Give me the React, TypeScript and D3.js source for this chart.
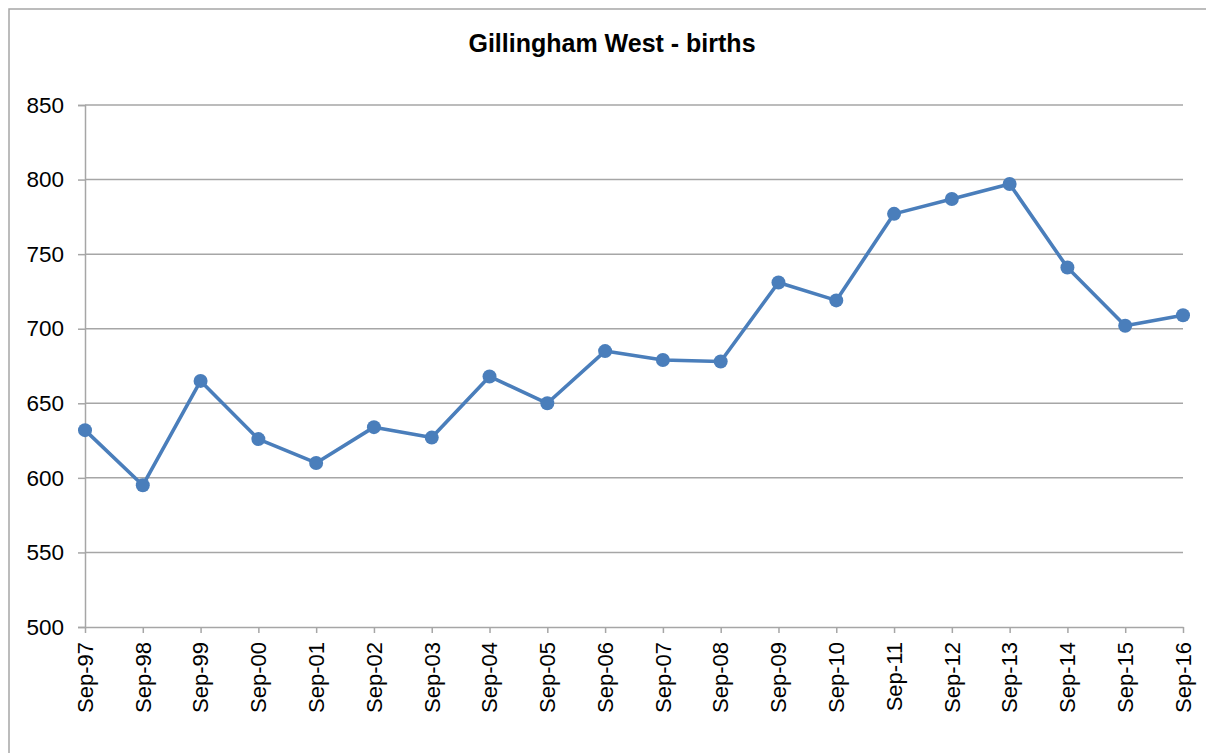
import { useRef, useEffect } from "react";
import * as d3 from "d3";

const categories = [
  "Sep-97", "Sep-98", "Sep-99", "Sep-00", "Sep-01", "Sep-02", "Sep-03",
  "Sep-04", "Sep-05", "Sep-06", "Sep-07", "Sep-08", "Sep-09", "Sep-10",
  "Sep-11", "Sep-12", "Sep-13", "Sep-14", "Sep-15", "Sep-16",
];
const births = [
  632, 595, 665, 626, 610, 634, 627, 668, 650, 685, 679, 678, 731, 719,
  777, 787, 797, 741, 702, 709,
];
const yTicks = [500, 550, 600, 650, 700, 750, 800, 850];
const title = "Gillingham West - births";

const W = 1206;
const H = 753;
const margin = { top: 105, right: 23, bottom: 126, left: 85 };

const App = () => {
  const svgRef = useRef<SVGSVGElement | null>(null);

  useEffect(() => {
    if (!svgRef.current) return;
    const svg = d3.select(svgRef.current);
    svg.selectAll("*").remove();

    const x = d3
      .scalePoint<string>()
      .domain(categories)
      .range([margin.left, W - margin.right]);
    const y = d3
      .scaleLinear()
      .domain([500, 850])
      .range([H - margin.bottom, margin.top]);

    const font = "Liberation Sans, Arial, sans-serif";
    const grey = "#a6a6a6";
    const blue = "#4a7ebb";

    // outer chart border (cut off at right/bottom in the reference)
    svg
      .append("rect")
      .attr("x", 9)
      .attr("y", 9)
      .attr("width", 1400)
      .attr("height", 1000)
      .attr("fill", "none")
      .attr("stroke", grey)
      .attr("stroke-width", 1.5);

    svg
      .append("text")
      .attr("x", 612)
      .attr("y", 52)
      .attr("text-anchor", "middle")
      .attr("font-family", font)
      .attr("font-weight", "bold")
      .attr("font-size", 25)
      .attr("fill", "#000")
      .text(title);

    // gridlines
    svg
      .append("g")
      .selectAll("line")
      .data(yTicks.filter((d) => d !== 500))
      .join("line")
      .attr("x1", margin.left)
      .attr("x2", W - margin.right)
      .attr("y1", (d) => y(d))
      .attr("y2", (d) => y(d))
      .attr("stroke", grey)
      .attr("stroke-width", 1.5);

    // y axis
    const yAxis = svg
      .append("g")
      .attr("transform", `translate(${margin.left},0)`)
      .call(
        d3
          .axisLeft(y)
          .tickValues(yTicks)
          .tickSize(7)
          .tickPadding(14)
          .tickFormat((d) => String(d))
      );
    yAxis.select(".domain").attr("stroke", grey).attr("stroke-width", 1.5);
    yAxis.selectAll(".tick line").attr("stroke", grey).attr("stroke-width", 1.5);
    yAxis
      .selectAll("text")
      .attr("font-family", font)
      .attr("font-size", 22.5)
      .attr("fill", "#000");

    // x axis
    const xAxis = svg
      .append("g")
      .attr("transform", `translate(0,${H - margin.bottom})`)
      .call(d3.axisBottom(x).tickSize(6).tickSizeOuter(0));
    xAxis.select(".domain").attr("stroke", grey).attr("stroke-width", 1.5);
    xAxis.selectAll(".tick line").attr("stroke", grey).attr("stroke-width", 1.5);
    xAxis
      .selectAll("text")
      .attr("font-family", font)
      .attr("font-size", 22)
      .attr("fill", "#000")
      .attr("text-anchor", "end")
      .attr("transform", "rotate(-90)")
      .attr("x", -15)
      .attr("y", 0)
      .attr("dy", "0.33em");

    // series
    const line = d3
      .line<number>()
      .x((_, i) => x(categories[i]) as number)
      .y((d) => y(d));

    svg
      .append("path")
      .datum(births)
      .attr("d", line)
      .attr("fill", "none")
      .attr("stroke", blue)
      .attr("stroke-width", 3.6)
      .attr("stroke-linejoin", "round");

    svg
      .append("g")
      .selectAll("circle")
      .data(births)
      .join("circle")
      .attr("cx", (_, i) => x(categories[i]) as number)
      .attr("cy", (d) => y(d))
      .attr("r", 7)
      .attr("fill", blue);
  }, []);

  return (
    <svg
      ref={svgRef}
      width={W}
      height={H}
      style={{ position: "absolute", left: 0, top: 0, background: "#fff" }}
    />
  );
};

export default App;
